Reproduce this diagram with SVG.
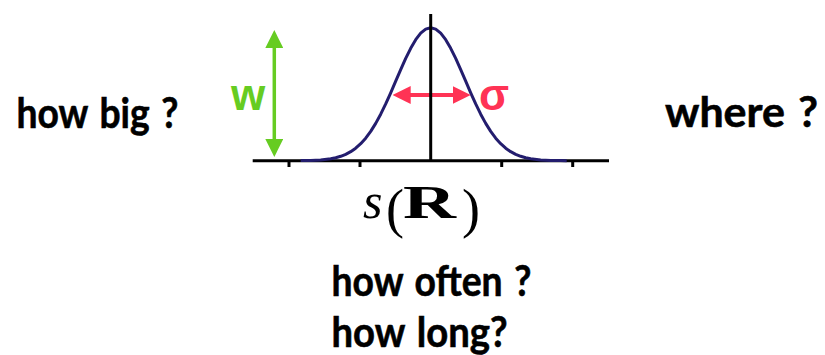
<svg xmlns="http://www.w3.org/2000/svg" width="825" height="355" viewBox="0 0 825 355">
<style>
.q{font-family:Lato,"Open Sans","Liberation Sans",sans-serif;font-weight:bold;font-size:42px;word-spacing:3px;fill:#000;stroke:#000;stroke-width:0.6}
.ax{stroke:#000;stroke-width:3;fill:none}
.sym{font-family:"Liberation Sans",Arial,sans-serif;font-weight:bold;font-size:44px}
.tex{font-family:"Liberation Serif","Times New Roman",serif;fill:#000}
</style>
<defs>
<marker id="hg" markerUnits="userSpaceOnUse" viewBox="0 0 18 18" markerWidth="18" markerHeight="18" refX="8" refY="9" orient="auto-start-reverse">
<path d="M0,0 L18,9 L0,18 z" fill="#66CC22"/>
</marker>
<marker id="hr" markerUnits="userSpaceOnUse" viewBox="0 0 18 18" markerWidth="18" markerHeight="18" refX="8" refY="9" orient="auto-start-reverse">
<path d="M0,0 L18,9 L0,18 z" fill="#FF3355"/>
</marker>
</defs>
<rect width="825" height="355" fill="#fff"/>
<g id="axes">
<line class="ax" x1="252.7" y1="160.7" x2="609" y2="160.7"/>
<line class="ax" x1="289" y1="160" x2="289" y2="167"/>
<line class="ax" x1="360" y1="160" x2="360" y2="167"/>
<line class="ax" x1="501.7" y1="160" x2="501.7" y2="167"/>
<line class="ax" x1="572.7" y1="160" x2="572.7" y2="167"/>
</g>
<g id="curve">
<polyline fill="none" stroke="#231D6E" stroke-width="3" stroke-linejoin="round" points="300.7,160.6 310.7,160.4 320.7,159.9 330.7,158.7 335.7,157.7 340.7,156.3 345.7,154.3 350.7,151.7 355.7,148.2 360.7,143.7 365.7,138.2 370.7,131.4 375.7,123.4 380.7,114.2 385.7,103.9 390.7,92.8 395.7,81.2 400.7,69.6 405.7,58.4 410.7,48.3 415.7,39.7 420.7,33.2 425.7,29.1 430.7,27.7 435.7,29.1 440.7,33.2 445.7,39.7 450.7,48.3 455.7,58.4 460.7,69.6 465.7,81.2 470.7,92.8 475.7,103.9 480.7,114.2 485.7,123.4 490.7,131.4 495.7,138.2 500.7,143.7 505.7,148.2 510.7,151.7 515.7,154.3 520.7,156.3 525.7,157.7 530.7,158.7 540.7,159.9 550.7,160.4 560.7,160.6 566.7,160.7"/>
</g>
<g id="connectors">
<line x1="274.3" y1="40" x2="274.3" y2="147" stroke="#66CC22" stroke-width="3.5" marker-start="url(#hg)" marker-end="url(#hg)"/>
<line x1="402.7" y1="95" x2="460.7" y2="95" stroke="#FF3355" stroke-width="4" marker-start="url(#hr)" marker-end="url(#hr)"/>
</g>
<g id="yaxis">
<line class="ax" x1="430.7" y1="14" x2="430.7" y2="161"/>
</g>
<g id="w-label"><text class="sym" x="231" y="109.5" fill="#66CC22">w</text></g>
<g id="sigma-label"><text class="sym" x="479" y="109.5" fill="#FF3355">σ</text></g>
<g id="s-of-R">
<text class="tex" x="363" y="218" font-size="50" font-style="italic">s</text>
<text class="tex" x="386" y="227" font-size="54">(</text>
<text class="tex" x="403" y="218" font-size="47" font-weight="bold" textLength="53" lengthAdjust="spacingAndGlyphs">R</text>
<text class="tex" x="462" y="227" font-size="54">)</text>
</g>
<g id="how-big"><text class="q" x="16.5" y="128" textLength="162" lengthAdjust="spacingAndGlyphs">how big ?</text></g>
<g id="where"><text class="q" x="665" y="126.5" textLength="153" lengthAdjust="spacingAndGlyphs">where ?</text></g>
<g id="how-often"><text class="q" x="331.5" y="295.5" textLength="200" lengthAdjust="spacingAndGlyphs">how often ?</text></g>
<g id="how-long"><text class="q" x="331.5" y="347" textLength="176" lengthAdjust="spacingAndGlyphs">how long?</text></g>
</svg>
